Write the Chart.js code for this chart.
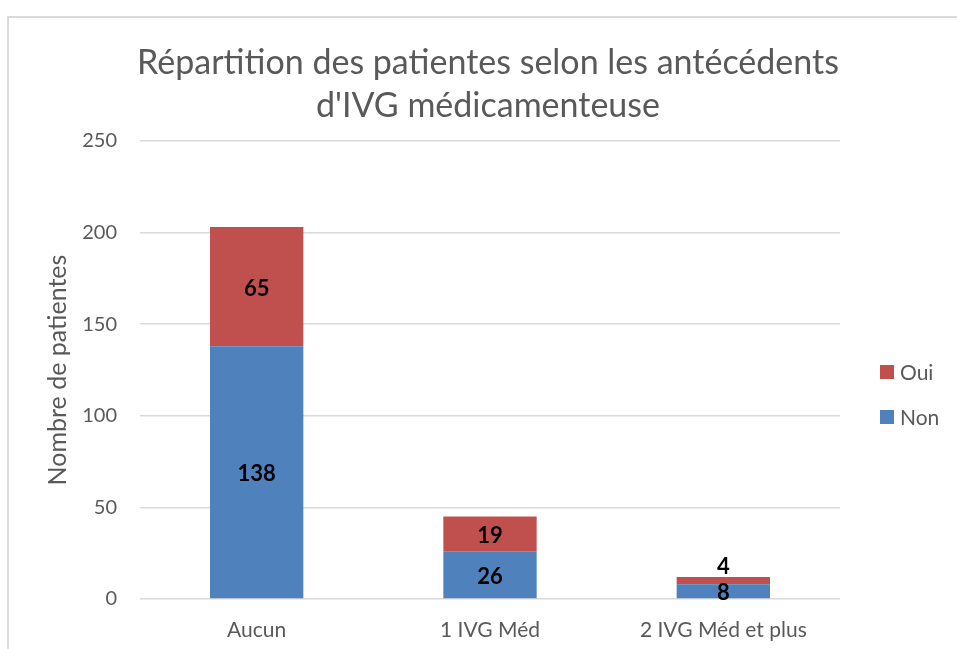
<!DOCTYPE html>
<html>
<head>
<meta charset="utf-8">
<script src="https://cdn.jsdelivr.net/npm/chart.js@4"></script>
<style>
    body { margin: 0; background: #fff; }
    #wrap { position: relative; width: 957px; height: 649px; overflow: hidden; }
    #frame { position: absolute; left: 7px; top: 16px; width: 1100px; height: 800px; border: 2px solid #d9d9d9; }
    #chart { position: absolute; left: 0; top: 0; }
    #legend { position: absolute; left: 880px; top: 359px; font-family: Lato, sans-serif; font-size: 21px; color: #595959; }
    #legend div { height: 45px; display: flex; align-items: flex-start; }
    #legend span.box { display: inline-block; width: 14px; height: 14px; margin: 6px 6px 0 0; }
</style>
</head>
<body>
<div id="wrap">
    <div id="frame"></div>
    <canvas id="chart" width="976" height="649"></canvas>
    <div id="legend"></div>
</div>
<script>
const categories = ["Aucun", "1 IVG Méd", "2 IVG Méd et plus"];
const nonValues = [138, 26, 8];
const ouiValues = [65, 19, 4];
const yTicks = [0, 50, 100, 150, 200, 250];

const textColor = "#595959";
const gridColor = "#d9d9d9";
const blue = "#4f81bd";
const red = "#c0504d";

// Bold numbers on each segment, pushed above the bar when the segment is too thin
const segmentLabels = {
    id: "segmentLabels",
    afterDatasetsDraw(chart) {
        const ctx = chart.ctx;
        ctx.save();
        ctx.font = "bold 22px Lato";
        ctx.fillStyle = "#000";
        ctx.textAlign = "center";
        ctx.textBaseline = "middle";
        chart.data.datasets.forEach((ds, i) => {
            const meta = chart.getDatasetMeta(i);
            meta.data.forEach((bar, j) => {
                const { x, y, base } = bar.getProps(["x", "y", "base"], true);
                const h = Math.abs(base - y);
                const ty = h < 10 ? y - 10 : (y + base) / 2 + 2;
                ctx.fillText(String(ds.data[j]), x, ty);
            });
        });
        ctx.restore();
    }
};

const chart = new Chart(document.getElementById("chart").getContext("2d"), {
    type: "bar",
    data: {
        labels: categories,
        datasets: [
            { label: "Non", data: nonValues, backgroundColor: blue },
            { label: "Oui", data: ouiValues, backgroundColor: red }
        ]
    },
    options: {
        responsive: false,
        animation: false,
        layout: { padding: 0 },
        datasets: { bar: { categoryPercentage: 1, barPercentage: 0.4 } },
        plugins: {
            legend: { display: false },
            tooltip: { enabled: false },
            title: {
                display: true,
                text: ["Répartition des patientes selon les antécédents", "d'IVG médicamenteuse"],
                color: textColor,
                font: { family: "Lato", size: 34, weight: "normal", lineHeight: 1.265 },
                padding: { top: 42, bottom: 13 }
            }
        },
        scales: {
            x: {
                stacked: true,
                grid: { display: false, drawTicks: false },
                border: { display: false },
                ticks: { color: textColor, font: { family: "Lato", size: 21 }, padding: 19 },
                afterFit(scale) { scale.height = 50; }
            },
            y: {
                stacked: true,
                min: 0,
                max: 250,
                afterBuildTicks(scale) { scale.ticks = yTicks.map(v => ({ value: v })); },
                grid: { color: gridColor, lineWidth: 1.5, drawTicks: false },
                border: { display: false },
                ticks: { color: textColor, font: { family: "Lato", size: 20 }, padding: 23 },
                title: {
                    display: true,
                    text: "Nombre de patientes",
                    color: textColor,
                    font: { family: "Lato", size: 25 },
                    padding: { top: 43, bottom: 0 }
                },
                afterFit(scale) { scale.width = 140; }
            },
            // empty right-hand column that leaves room for the legend
            legendSpace: {
                position: "right",
                display: true,
                grid: { display: false },
                border: { display: false },
                ticks: { display: false },
                afterFit(scale) { scale.width = 976 - 840; }
            }
        }
    },
    plugins: [segmentLabels]
});

// Legend on the right, Oui above Non as in the original
const legend = document.getElementById("legend");
[...chart.data.datasets].reverse().forEach(ds => {
    const row = document.createElement("div");
    row.innerHTML = `<span class="box" style="background:${ds.backgroundColor}"></span>${ds.label}`;
    legend.appendChild(row);
});
</script>
</body>
</html>
